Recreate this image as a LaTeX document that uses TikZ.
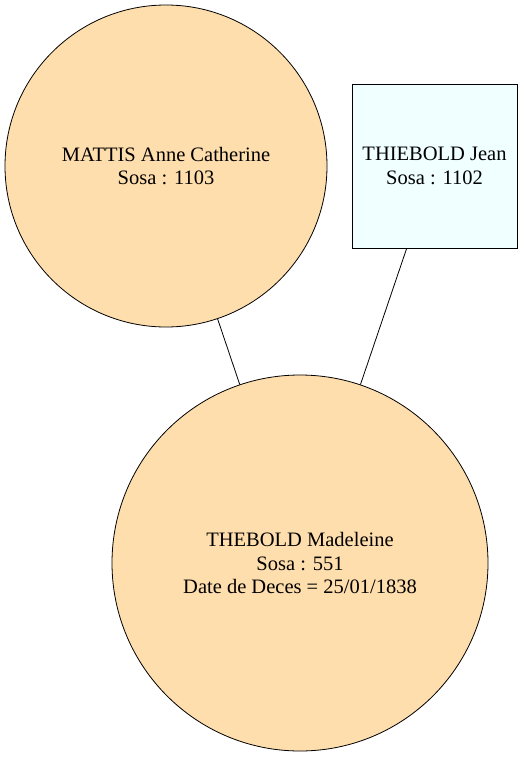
\documentclass[tikz,border=0pt]{standalone}
\usepackage{fontspec}
\setmainfont{Liberation Serif}
\definecolor{navaj}{HTML}{FFDEAD}
\definecolor{azur}{HTML}{F0FFFF}
\begin{document}
\begin{tikzpicture}[x=1pt,y=1pt,
  person/.style={circle,draw=black,line width=0.8pt,fill=navaj,inner sep=0pt,align=center,font=\fontsize{20.5}{23.5}\selectfont},
  man/.style={rectangle,draw=black,line width=0.8pt,fill=azur,inner sep=0pt,align=center,font=\fontsize{20.5}{23.5}\selectfont},
  link/.style={draw=black,line width=0.8pt}]
\useasboundingbox (0,0) rectangle (523,-758);
\node[person,minimum size=322pt] (mattis) at (166,-166) {MATTIS Anne Catherine\\Sosa : 1103};
\node[man,minimum width=165pt,minimum height=164pt] (jean) at (434.5,-166) {THIEBOLD Jean\\Sosa : 1102};
\node[person,minimum size=376pt] (mad) at (300,-563) {THEBOLD Madeleine\\Sosa : 551\\Date de Deces = 25/01/1838};
\draw[link] (mattis) -- (mad);
\draw[link] (jean) -- (mad);
\end{tikzpicture}
\end{document}
